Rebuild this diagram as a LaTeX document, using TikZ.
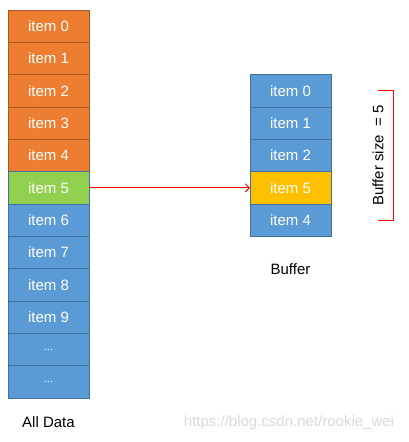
\documentclass[tikz,border=0pt]{standalone}
\usepackage{fontspec}
\setmainfont{Liberation Sans}
\usetikzlibrary{calc,positioning,chains,arrows.meta}
\definecolor{itemorange}{HTML}{ED7D31}
\definecolor{itemblue}{HTML}{5B9BD5}
\definecolor{itemgreen}{HTML}{92D050}
\definecolor{itemgold}{HTML}{FFC000}
\definecolor{cellline}{HTML}{41719C}
\tikzset{
>={Straight Barb[length=4pt,width=8pt]},
  cell/.style={
    rectangle,
    fill=itemblue,
    draw=cellline, line width=0.8pt,
    text=white,
    minimum width=81pt,
    minimum height=32.33pt,
    inner sep=0pt, outer sep=0pt,
    font=\fontsize{15}{18}\selectfont,
    on chain},
  oldcell/.style={cell, fill=itemorange, draw=itemorange!70!black},
  curcell/.style={cell, fill=itemgreen},
  newcell/.style={cell, fill=itemgold},
  dotcell/.style={cell, font=\fontsize{11}{13}\selectfont},
  caption/.style={font=\fontsize{15}{18}\selectfont},
  pointer/.style={draw=red, line width=1pt, ->}
}
\begin{document}
\begin{tikzpicture}
  [node distance=0pt]
  \useasboundingbox (0,0) rectangle (409pt,-442pt);
  % all data
  \begin{scope}[start chain=alldata going below]
    \node[oldcell] (d0) at (48.5pt,-26.17pt) {item 0};
    \node[oldcell] (d1) {item 1};
    \node[oldcell] (d2) {item 2};
    \node[oldcell] (d3) {item 3};
    \node[oldcell] (d4) {item 4};
    \node[curcell] (d5) {item 5};
    \node[cell] (d6) {item 6};
    \node[cell] (d7) {item 7};
    \node[cell] (d8) {item 8};
    \node[cell] (d9) {item 9};
    \node[dotcell] (d10) {...};
    \node[dotcell] (d11) {...};
  \end{scope}
  % buffer
  \begin{scope}[start chain=buffer going below]
    \node[cell] (b0) [right=161pt of d2] {item 0};
    \node[cell] (b1) {item 1};
    \node[cell] (b2) {item 2};
    \node[newcell] (b3) {item 5};
    \node[cell] (b4) {item 4};
  \end{scope}

  \draw[pointer] (d5.east) -- (b3.west);

  \coordinate (brtop) at ($(b0.east)+(47pt,0)$);
  \coordinate (brbot) at ($(b4.east)+(47pt,0)$);
  \draw[red, line width=0.8pt] (brtop) -- ++(15pt,0) |- (brbot);
  \node[caption, rotate=90] (bsize) at ($(brtop)!0.5!(brbot)$) {Buffer size\ \ = 5};

  \node[caption, below=24pt of b4] (buflabel) {Buffer};
  \node[caption, below=15pt of d11] (alllabel) {All Data};
  \node[caption, text=black!15] (mark) at (289pt,-423pt) {https://blog.csdn.net/rookie\_wei};
\end{tikzpicture}
\end{document}
